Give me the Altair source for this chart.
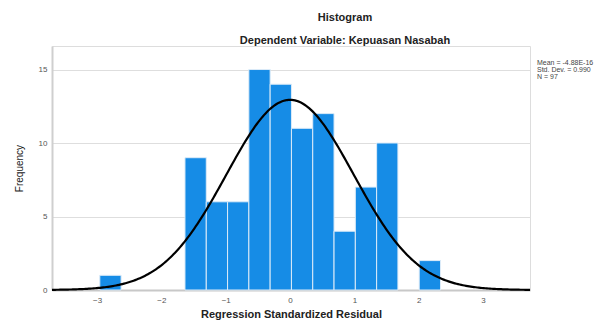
import altair as alt
import numpy as np
import pandas as pd

# Histogram bins (left edges) and frequencies
bin_left = [-2.957, -1.633, -1.302, -0.971, -0.640, -0.309, 0.022, 0.353, 0.684, 1.015, 1.346, 2.008]
counts   = [1, 9, 6, 6, 15, 14, 11, 12, 4, 7, 10, 2]
bin_width = 0.331

# Stated statistics
mean_txt = "-4.88E-16"
mean = -4.88e-16
sd = 0.990
n = 97
stats_lines = [f"Mean = {mean_txt}", f"Std. Dev. = {sd:.3f}", f"N = {n}"]

x_ticks = [-3, -2, -1, 0, 1, 2, 3]
y_ticks = [0, 5, 10, 15]
x_dom = [-3.7, 3.73]
y_dom = [0, 16.6]

bars = pd.DataFrame({"x": bin_left, "x2": [b + bin_width for b in bin_left], "count": counts})

# Normal curve defined by the stated mean, sd and N
xs = np.linspace(x_dom[0], x_dom[1], 300)
ys = n * bin_width * np.exp(-0.5 * ((xs - mean) / sd) ** 2) / (sd * np.sqrt(2 * np.pi))
curve = pd.DataFrame({"x": xs, "count": ys})

FONT = "Liberation Sans"

xscale = alt.Scale(domain=x_dom, nice=False, zero=False)
yscale = alt.Scale(domain=y_dom, nice=False)

bar_layer = alt.Chart(bars).mark_rect(color="#168ce6", stroke="#dcebf8", strokeWidth=1).encode(
    x=alt.X("x:Q", scale=xscale,
            axis=alt.Axis(values=x_ticks, format="d", title="Regression Standardized Residual", grid=False,
                          ticks=False, domainColor="#c8c8c8", domainWidth=2, labelColor="#555555",
                          labelFontSize=8, labelFont=FONT, labelPadding=6,
                          titleFont=FONT, titleFontSize=11, titleFontWeight="bold",
                          titleColor="#222222", titlePadding=4)),
    x2="x2:Q",
    y=alt.Y("count:Q", scale=yscale,
            axis=alt.Axis(values=y_ticks, format="d", title="Frequency", grid=True, gridColor="#dedede",
                          ticks=False, domainColor="#cfcfcf", domainWidth=2, labelColor="#555555",
                          labelFontSize=8, labelFont=FONT, labelPadding=5,
                          titleFont=FONT, titleFontSize=10, titleFontWeight="normal",
                          titleColor="#222222", titlePadding=14)),
    y2=alt.datum(0),
)

line_layer = alt.Chart(curve).mark_line(color="black", strokeWidth=2.2).encode(
    x=alt.X("x:Q", scale=xscale),
    y=alt.Y("count:Q", scale=yscale),
)

stats = pd.DataFrame({"t": ["\n".join(stats_lines)]})
stats_layer = alt.Chart(stats).mark_text(align="left", baseline="top", fontSize=7, lineBreak="\n",
                                          lineHeight=7, font=FONT, color="#444444").encode(
    x=alt.value(485),
    y=alt.value(13),
    text="t:N",
)

chart = alt.layer(bar_layer, line_layer, stats_layer).properties(
    width=478, height=244,
    autosize=alt.AutoSizeParams(type="none"),
    padding={"left": 44, "top": 38, "right": 70, "bottom": 30},
    title=alt.TitleParams(
        text="Histogram", subtitle="Dependent Variable: Kepuasan Nasabah",
        anchor="middle", dx=54, offset=0, font=FONT, fontSize=11, fontWeight="bold",
        color="#222222", subtitleFont=FONT, subtitleFontSize=11, subtitleFontWeight="bold",
        subtitleColor="#222222", subtitlePadding=12,
    ),
).configure_view(stroke=None).configure(background="white")

chart.save("out.html", embed_options={"renderer": "svg", "actions": False})
